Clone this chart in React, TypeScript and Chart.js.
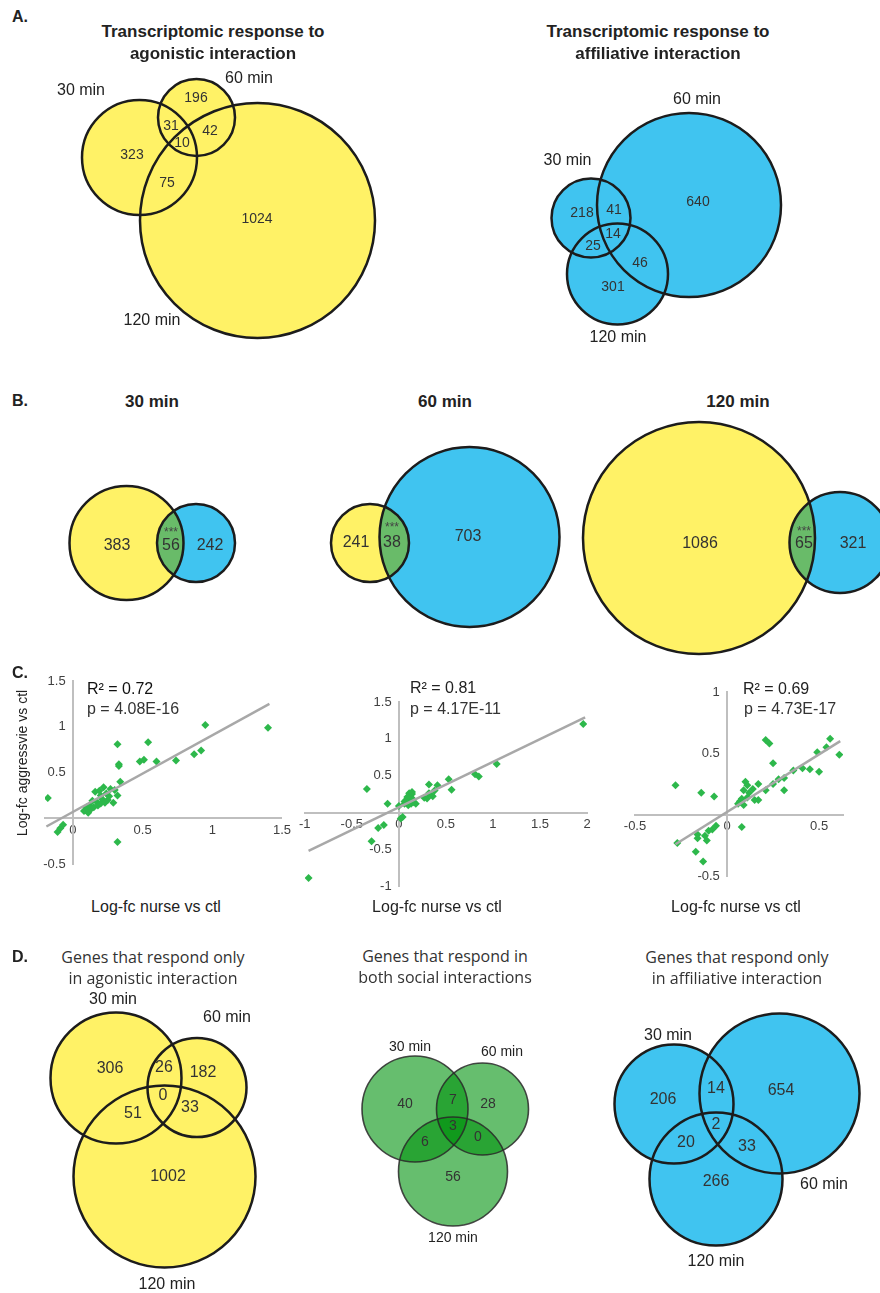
import React, { useEffect, useRef } from "react";
import { Chart, registerables } from "chart.js";
Chart.register(...registerables);

const ARIAL = "'Liberation Sans', Arial, Helvetica, sans-serif";
const HUMAN = "'Open Sans', 'Liberation Sans', sans-serif";

// ================= DATA =================
const timeSets = ["30 min", "60 min", "120 min"];
// Region order: [30 only, 60 only, 120 only, 30∩60, 30∩120, 60∩120, 30∩60∩120]
const agonisticCounts = [323, 196, 1024, 31, 75, 42, 10];
const affiliativeCounts = [218, 640, 301, 41, 25, 46, 14];

// Panel B: agonistic-only / shared / affiliative-only per time point
const bTimes = ["30 min", "60 min", "120 min"];
const bAgonisticOnly = [383, 241, 1086];
const bShared = [56, 38, 65];
const bAffiliativeOnly = [242, 703, 321];
const bSignif = ["***", "***", "***"];

// Panel C: log-fc nurse vs ctl (x), log-fc aggressive vs ctl (y)
const c30Points = [
  [-0.18, 0.22], [-0.07, -0.07], [-0.09, -0.11], [-0.11, -0.15], [0.08, 0.08], [0.09, 0.09],
  [0.10, 0.12], [0.11, 0.06], [0.12, 0.14], [0.13, 0.10], [0.14, 0.19], [0.15, 0.12],
  [0.16, 0.29], [0.17, 0.18], [0.18, 0.14], [0.19, 0.30], [0.20, 0.25], [0.20, 0.16],
  [0.21, 0.21], [0.22, 0.34], [0.23, 0.17], [0.24, 0.27], [0.25, 0.20], [0.26, 0.24],
  [0.27, 0.32], [0.29, 0.17], [0.30, 0.31], [0.32, 0.25], [0.34, 0.40], [0.33, 0.57],
  [0.33, 0.59], [0.32, 0.81], [0.32, -0.26], [0.48, 0.62], [0.51, 0.64], [0.54, 0.83],
  [0.60, 0.62], [0.74, 0.63], [0.87, 0.70], [0.92, 0.74], [0.95, 1.02], [1.40, 0.99],
];
const c30Trend = [[-0.19, -0.09], [1.41, 1.25]];
const c60Points = [
  [1.96, 1.2], [1.04, 0.66], [0.81, 0.52], [0.85, 0.49], [0.53, 0.45], [0.56, 0.31],
  [0.41, 0.37], [0.32, 0.38], [0.27, 0.2], [0.32, 0.26], [0.36, 0.22], [0.3, 0.19],
  [0.34, 0.24], [0.38, 0.3], [-0.34, 0.32], [-0.12, 0.12], [0.0, 0.09], [0.06, 0.15],
  [0.1, 0.19], [0.11, 0.26], [0.13, 0.12], [0.08, 0.17], [0.12, 0.22], [0.14, 0.25],
  [0.15, 0.18], [0.16, 0.14], [0.18, 0.12], [0.06, 0.12], [0.1, 0.1], [0.14, 0.28],
  [0.09, 0.21], [0.02, -0.08], [0.04, -0.06], [-0.16, -0.17], [-0.22, -0.21],
  [-0.29, -0.39], [-0.96, -0.89],
];
const c60Trend = [[-0.96, -0.52], [1.98, 1.29]];
const c120Points = [
  [-0.28, 0.24], [-0.14, 0.18], [-0.07, 0.15], [0.21, 0.61], [0.23, 0.58], [0.56, 0.62],
  [0.61, 0.49], [0.49, 0.51], [0.54, 0.55], [0.25, 0.42], [0.41, 0.38], [0.45, 0.37],
  [0.5, 0.35], [0.36, 0.36], [0.31, 0.3], [0.28, 0.29], [0.25, 0.25], [0.31, 0.2],
  [0.17, 0.25], [0.21, 0.2], [0.17, 0.12], [0.15, 0.12], [0.1, 0.27], [0.11, 0.24],
  [0.09, 0.2], [0.12, 0.18], [0.14, 0.21], [0.07, 0.11], [0.06, 0.09], [0.08, 0.13],
  [0.11, 0.14], [0.09, 0.08], [0.08, -0.1], [-0.06, -0.09], [-0.08, -0.12], [-0.1, -0.13],
  [-0.12, -0.17], [-0.11, -0.21], [-0.16, -0.16], [-0.16, -0.19], [-0.27, -0.23],
  [-0.17, -0.3], [-0.13, -0.38],
];
const c120Trend = [[-0.28, -0.24], [0.615, 0.6]];
const cR2 = ["R² = 0.72", "R² = 0.81", "R² = 0.69"];
const cP = ["p = 4.08E-16", "p = 4.17E-11", "p = 4.73E-17"];
const c30XTicks = [0, 0.5, 1, 1.5];
const c30YTicks = [-0.5, 0.5, 1, 1.5];
const c60XTicks = [-1, -0.5, 0, 0.5, 1, 1.5, 2];
const c60YTicks = [-1, -0.5, 0.5, 1, 1.5];
const c120XTicks = [-0.5, 0, 0.5];
const c120YTicks = [-0.5, 0.5, 1];

// Panel D
const dAgonisticOnly = [306, 182, 1002, 26, 51, 33, 0];
const dBoth = [40, 28, 56, 7, 6, 0, 3];
const dAffiliativeOnly = [206, 654, 266, 14, 20, 33, 2];

// ================= LAYOUT (page pixel coordinates) =================
const YELLOW = "#FFF266";
const BLUE = "#40C4F0";
const LENS_GREEN = "#69BB69";
const GREEN_ALPHA = "rgba(0,147,13,0.6)";
const INK = "#1c1c1c";

const aAgoGeom = [[139.5, 157.5, 57.5], [196.5, 117.5, 38.5], [257.5, 220.5, 117.5]];
const aAgoCountXY = [[132, 155], [196, 98], [257, 219], [171, 126], [167, 183], [210, 131], [182, 143]];
const aAgoSetXY = [[81, 91], [249, 79], [152, 321]];
const aAffGeom = [[591, 218, 39.5], [689, 205, 92], [617.5, 274, 50.5]];
const aAffCountXY = [[582, 213], [698, 202], [613, 287], [614, 210], [593, 246], [640, 263], [613, 234]];
const aAffSetXY = [[567.5, 161], [697, 100], [618, 338]];

const bGeom = [
  [[126.5, 543, 57], [196, 543, 39]],
  [[370, 543, 39], [469.5, 537, 90]],
  [[699, 538, 116], [840, 542.5, 50.5]],
];
const bAgoXY = [[117, 546], [356, 543], [700, 544]];
const bSharedXY = [[171, 546], [392, 543], [804, 544]];
const bSigXY = [[171, 533], [392, 528], [804, 532]];
const bAffXY = [[210, 546], [468, 537], [853, 544]];

const dAgoGeom = [[116, 1078, 65.5], [197, 1087.5, 49.5], [164.5, 1176.5, 91]];
const dAgoCountXY = [[110, 1069], [203, 1073], [168, 1177], [164, 1068], [133, 1114], [190, 1108], [163, 1096]];
const dAgoSetXY = [[113, 1000], [227, 1018], [167, 1285]];
const dBothGeom = [[415, 1109, 53], [482.5, 1109, 46], [453, 1171.5, 54.5]];
const dBothCountXY = [[405, 1104], [488, 1104], [453, 1177], [453, 1100], [425, 1142], [478, 1137], [453, 1126]];
const dBothSetXY = [[410, 1047], [502, 1052], [453, 1238]];
const dAffGeom = [[674, 1104, 59.5], [779.5, 1093.5, 80], [716, 1179, 66.5]];
const dAffCountXY = [[663, 1100], [781, 1091], [716, 1182], [716, 1089], [686, 1143], [747, 1147], [716, 1125]];
const dAffSetXY = [[668, 1036], [824, 1185], [716, 1262]];

type Circ = { x: number; y: number; r: number; fill: string; stroke: string; sw: number };
type Lbl = { text: string; x: number; y: number; size: number; color?: string };
type Box = { left: number; top: number; width: number; height: number };
type Lens = { a: number; b: number; fill: string };

const circ = (g: number[][], fill: string, stroke = INK, sw = 2.5): Circ[] =>
  g.map(([x, y, r]) => ({ x, y, r, fill, stroke, sw }));
const lbls = (vals: (string | number)[], xy: number[][], size: number, color = "#333"): Lbl[] =>
  vals.map((v, i) => ({ text: String(v), x: xy[i][0], y: xy[i][1], size, color }));

function VennChart({ box, circles, labels, lens }: { box: Box; circles: Circ[]; labels: Lbl[]; lens?: Lens[] }) {
  const ref = useRef<HTMLCanvasElement>(null);
  useEffect(() => {
    const pts = circles.map((c) => ({ x: c.x, y: c.y, r: c.r }));
    const plugin = {
      id: "vennExtras",
      afterDatasetDraw(chart: any, args: any) {
        if (args.index !== 1 || !lens) return;
        const els = chart.getDatasetMeta(1).data;
        const ctx = chart.ctx;
        lens.forEach((l) => {
          const a = els[l.a];
          const b = els[l.b];
          ctx.save();
          ctx.beginPath();
          ctx.arc(a.x, a.y, a.options.radius, 0, Math.PI * 2);
          ctx.clip();
          ctx.beginPath();
          ctx.arc(b.x, b.y, b.options.radius, 0, Math.PI * 2);
          ctx.fillStyle = l.fill;
          ctx.fill();
          ctx.restore();
        });
      },
      afterDatasetsDraw(chart: any) {
        const ctx = chart.ctx;
        const sx = chart.scales.x;
        const sy = chart.scales.y;
        ctx.save();
        ctx.textAlign = "center";
        ctx.textBaseline = "middle";
        labels.forEach((l) => {
          ctx.font = `${l.size}px ${ARIAL}`;
          ctx.fillStyle = l.color || "#333";
          ctx.fillText(l.text, sx.getPixelForValue(l.x), sy.getPixelForValue(l.y));
        });
        ctx.restore();
      },
    };
    const chart = new Chart(ref.current as HTMLCanvasElement, {
      type: "bubble",
      data: {
        datasets: [
          {
            data: pts,
            backgroundColor: "rgba(0,0,0,0)",
            borderColor: circles.map((c) => c.stroke),
            borderWidth: circles.map((c) => c.sw),
            clip: false,
          } as any,
          {
            data: pts,
            backgroundColor: circles.map((c) => c.fill),
            borderWidth: 0,
            clip: false,
          } as any,
        ],
      },
      options: {
        responsive: false,
        animation: false,
        events: [],
        layout: { padding: 0, autoPadding: false },
        plugins: { legend: { display: false }, tooltip: { enabled: false } },
        scales: {
          x: { type: "linear", display: false, min: box.left, max: box.left + box.width },
          y: { type: "linear", display: false, min: box.top, max: box.top + box.height, reverse: true },
        },
      },
      plugins: [plugin],
    });
    return () => chart.destroy();
  }, []);
  return (
    <canvas
      ref={ref}
      width={box.width}
      height={box.height}
      style={{ position: "absolute", left: box.left, top: box.top, width: box.width, height: box.height }}
    />
  );
}

function ScatterChart({
  box, area, xr, yr, xTicks, yTicks, points, trend,
}: {
  box: Box; area: { l: number; r: number; t: number; b: number }; xr: number[]; yr: number[];
  xTicks: number[]; yTicks: number[]; points: number[][]; trend: number[][];
}) {
  const ref = useRef<HTMLCanvasElement>(null);
  useEffect(() => {
    const tickFont = { family: ARIAL, size: 13 };
    const chart = new Chart(ref.current as HTMLCanvasElement, {
      type: "scatter",
      data: {
        datasets: [
          {
            data: trend.map(([x, y]) => ({ x, y })),
            showLine: true,
            borderColor: "#A8A8A8",
            borderWidth: 2.5,
            pointRadius: 0,
          },
          {
            data: points.map(([x, y]) => ({ x, y })),
            pointStyle: "rectRot",
            pointRadius: 4,
            backgroundColor: "#2DB84B",
            borderWidth: 0,
          },
        ],
      },
      options: {
        responsive: false,
        animation: false,
        events: [],
        layout: {
          autoPadding: false,
          padding: {
            left: area.l - box.left,
            right: box.left + box.width - area.r,
            top: area.t - box.top,
            bottom: box.top + box.height - area.b,
          },
        },
        plugins: { legend: { display: false }, tooltip: { enabled: false } },
        scales: {
          x: {
            type: "linear",
            min: xr[0],
            max: xr[1],
            position: { y: 0 } as any,
            grid: { display: false, drawTicks: false },
            border: { display: true, color: "#BFBFBF", width: 2 },
            ticks: { autoSkip: false, padding: 4, maxRotation: 0, font: tickFont, color: "#404040", callback: (v: any) => String(v) },
            afterBuildTicks: (s: any) => { s.ticks = xTicks.map((v) => ({ value: v })); },
          },
          y: {
            type: "linear",
            min: yr[0],
            max: yr[1],
            position: { x: 0 } as any,
            grid: { display: false, drawTicks: false },
            border: { display: true, color: "#BFBFBF", width: 2 },
            ticks: { autoSkip: false, padding: 6, font: tickFont, color: "#404040", callback: (v: any) => String(v) + "  " },
            afterBuildTicks: (s: any) => { s.ticks = yTicks.map((v) => ({ value: v })); },
          },
        },
      },
    });
    return () => chart.destroy();
  }, []);
  return (
    <canvas
      ref={ref}
      width={box.width}
      height={box.height}
      style={{ position: "absolute", left: box.left, top: box.top, width: box.width, height: box.height }}
    />
  );
}

type T = { t: string; x: number; y: number; size: number; bold?: boolean; align?: "left" | "center"; font?: string; rot?: boolean; color?: string };

const texts: T[] = [
  { t: "A.", x: 12, y: 17, size: 16, bold: true, align: "left" },
  { t: "B.", x: 12, y: 401, size: 16, bold: true, align: "left" },
  { t: "C.", x: 12, y: 673, size: 16, bold: true, align: "left" },
  { t: "D.", x: 12, y: 957, size: 16, bold: true, align: "left" },
  { t: "Transcriptomic response to", x: 213, y: 31, size: 17, bold: true },
  { t: "agonistic interaction", x: 213, y: 53, size: 17, bold: true },
  { t: "Transcriptomic response to", x: 658, y: 31, size: 17, bold: true },
  { t: "affiliative interaction", x: 658, y: 53, size: 17, bold: true },
  { t: bTimes[0], x: 152, y: 401, size: 17, bold: true },
  { t: bTimes[1], x: 445, y: 401, size: 17, bold: true },
  { t: bTimes[2], x: 738, y: 401, size: 17, bold: true },
  { t: cR2[0], x: 87, y: 689, size: 16, align: "left", color: "#111" },
  { t: cP[0], x: 87, y: 709, size: 16, align: "left", color: "#333" },
  { t: cR2[1], x: 410, y: 688, size: 16, align: "left", color: "#222" },
  { t: cP[1], x: 410, y: 709, size: 16, align: "left", color: "#333" },
  { t: cR2[2], x: 743, y: 689, size: 16, align: "left", color: "#222" },
  { t: cP[2], x: 744, y: 709, size: 16, align: "left", color: "#333" },
  { t: "Log-fc aggressvie vs ctl", x: 22, y: 763, size: 14, rot: true, color: "#222" },
  { t: "Log-fc nurse vs ctl", x: 156, y: 907, size: 16, color: "#222" },
  { t: "Log-fc nurse vs ctl", x: 437, y: 907, size: 16, color: "#222" },
  { t: "Log-fc nurse vs ctl", x: 736, y: 907, size: 16, color: "#222" },
  { t: "Genes that respond only", x: 153, y: 957, size: 16, font: HUMAN, color: "#333" },
  { t: "in agonistic interaction", x: 153, y: 978, size: 16, font: HUMAN, color: "#333" },
  { t: "Genes that respond in", x: 445, y: 956, size: 16, font: HUMAN, color: "#333" },
  { t: "both social interactions", x: 445, y: 977, size: 16, font: HUMAN, color: "#333" },
  { t: "Genes that respond only", x: 737, y: 957, size: 16, font: HUMAN, color: "#333" },
  { t: "in affiliative interaction", x: 737, y: 978, size: 16, font: HUMAN, color: "#333" },
];

function Txt({ d }: { d: T }) {
  const tr = (d.align === "left" ? "translate(0,-50%)" : "translate(-50%,-50%)") + (d.rot ? " rotate(-90deg)" : "");
  return (
    <div
      style={{
        position: "absolute",
        left: d.x,
        top: d.y,
        transform: tr,
        whiteSpace: "nowrap",
        fontSize: d.size,
        lineHeight: 1,
        fontWeight: d.bold ? 700 : 400,
        fontFamily: d.font || ARIAL,
        color: d.color || "#222",
      }}
    >
      {d.t}
    </div>
  );
}

export default function App() {
  const aCircles = [...circ(aAgoGeom, YELLOW), ...circ(aAffGeom, BLUE)];
  const aLabels = [
    ...lbls(agonisticCounts, aAgoCountXY, 14),
    ...lbls(timeSets, aAgoSetXY, 16, "#222"),
    ...lbls(affiliativeCounts, aAffCountXY, 14),
    ...lbls(timeSets, aAffSetXY, 16, "#222"),
  ];

  const bCircles: Circ[] = [];
  bGeom.forEach((pair) => {
    bCircles.push(...circ([pair[0]], YELLOW));
    bCircles.push(...circ([pair[1]], BLUE));
  });
  const bLens: Lens[] = bGeom.map((_, i) => ({ a: i * 2, b: i * 2 + 1, fill: LENS_GREEN }));
  const bLabels = [
    ...lbls(bAgonisticOnly, bAgoXY, 16),
    ...lbls(bShared, bSharedXY, 16),
    ...lbls(bSignif, bSigXY, 12, "#444"),
    ...lbls(bAffiliativeOnly, bAffXY, 16),
  ];

  const dCircles = [
    ...circ(dAgoGeom, YELLOW),
    ...circ(dBothGeom, GREEN_ALPHA, "rgba(40,40,40,0.85)", 1.6),
    ...circ(dAffGeom, BLUE),
  ];
  const dLabels = [
    ...lbls(dAgonisticOnly, dAgoCountXY, 16),
    ...lbls(timeSets, dAgoSetXY, 16, "#222"),
    ...lbls(dBoth, dBothCountXY, 14),
    ...lbls(timeSets, dBothSetXY, 14, "#222"),
    ...lbls(dAffiliativeOnly, dAffCountXY, 16),
    ...lbls(timeSets, dAffSetXY, 16, "#222"),
  ];

  return (
    <div
      style={{
        position: "absolute",
        left: 0,
        top: 0,
        width: 880,
        height: 1293,
        background: "#fff",
        overflow: "hidden",
        fontFamily: ARIAL,
      }}
    >
      <VennChart box={{ left: 0, top: 60, width: 880, height: 290 }} circles={aCircles} labels={aLabels} />
      <VennChart box={{ left: 0, top: 415, width: 880, height: 245 }} circles={bCircles} labels={bLabels} lens={bLens} />
      <ScatterChart
        box={{ left: 0, top: 660, width: 295, height: 235 }}
        area={{ l: 45, r: 283, t: 681, b: 864 }}
        xr={[-0.2, 1.5]} yr={[-0.5, 1.5]}
        xTicks={c30XTicks} yTicks={c30YTicks}
        points={c30Points} trend={c30Trend}
      />
      <ScatterChart
        box={{ left: 295, top: 660, width: 300, height: 240 }}
        area={{ l: 300, r: 587, t: 702, b: 890 }}
        xr={[-1, 2]} yr={[-1, 1.5]}
        xTicks={c60XTicks} yTicks={c60YTicks}
        points={c60Points} trend={c60Trend}
      />
      <ScatterChart
        box={{ left: 600, top: 660, width: 280, height: 230 }}
        area={{ l: 635, r: 843, t: 692, b: 878 }}
        xr={[-0.5, 0.63]} yr={[-0.5, 1]}
        xTicks={c120XTicks} yTicks={c120YTicks}
        points={c120Points} trend={c120Trend}
      />
      <VennChart box={{ left: 0, top: 985, width: 880, height: 308 }} circles={dCircles} labels={dLabels} />
      {texts.map((d, i) => (
        <Txt key={i} d={d} />
      ))}
    </div>
  );
}
